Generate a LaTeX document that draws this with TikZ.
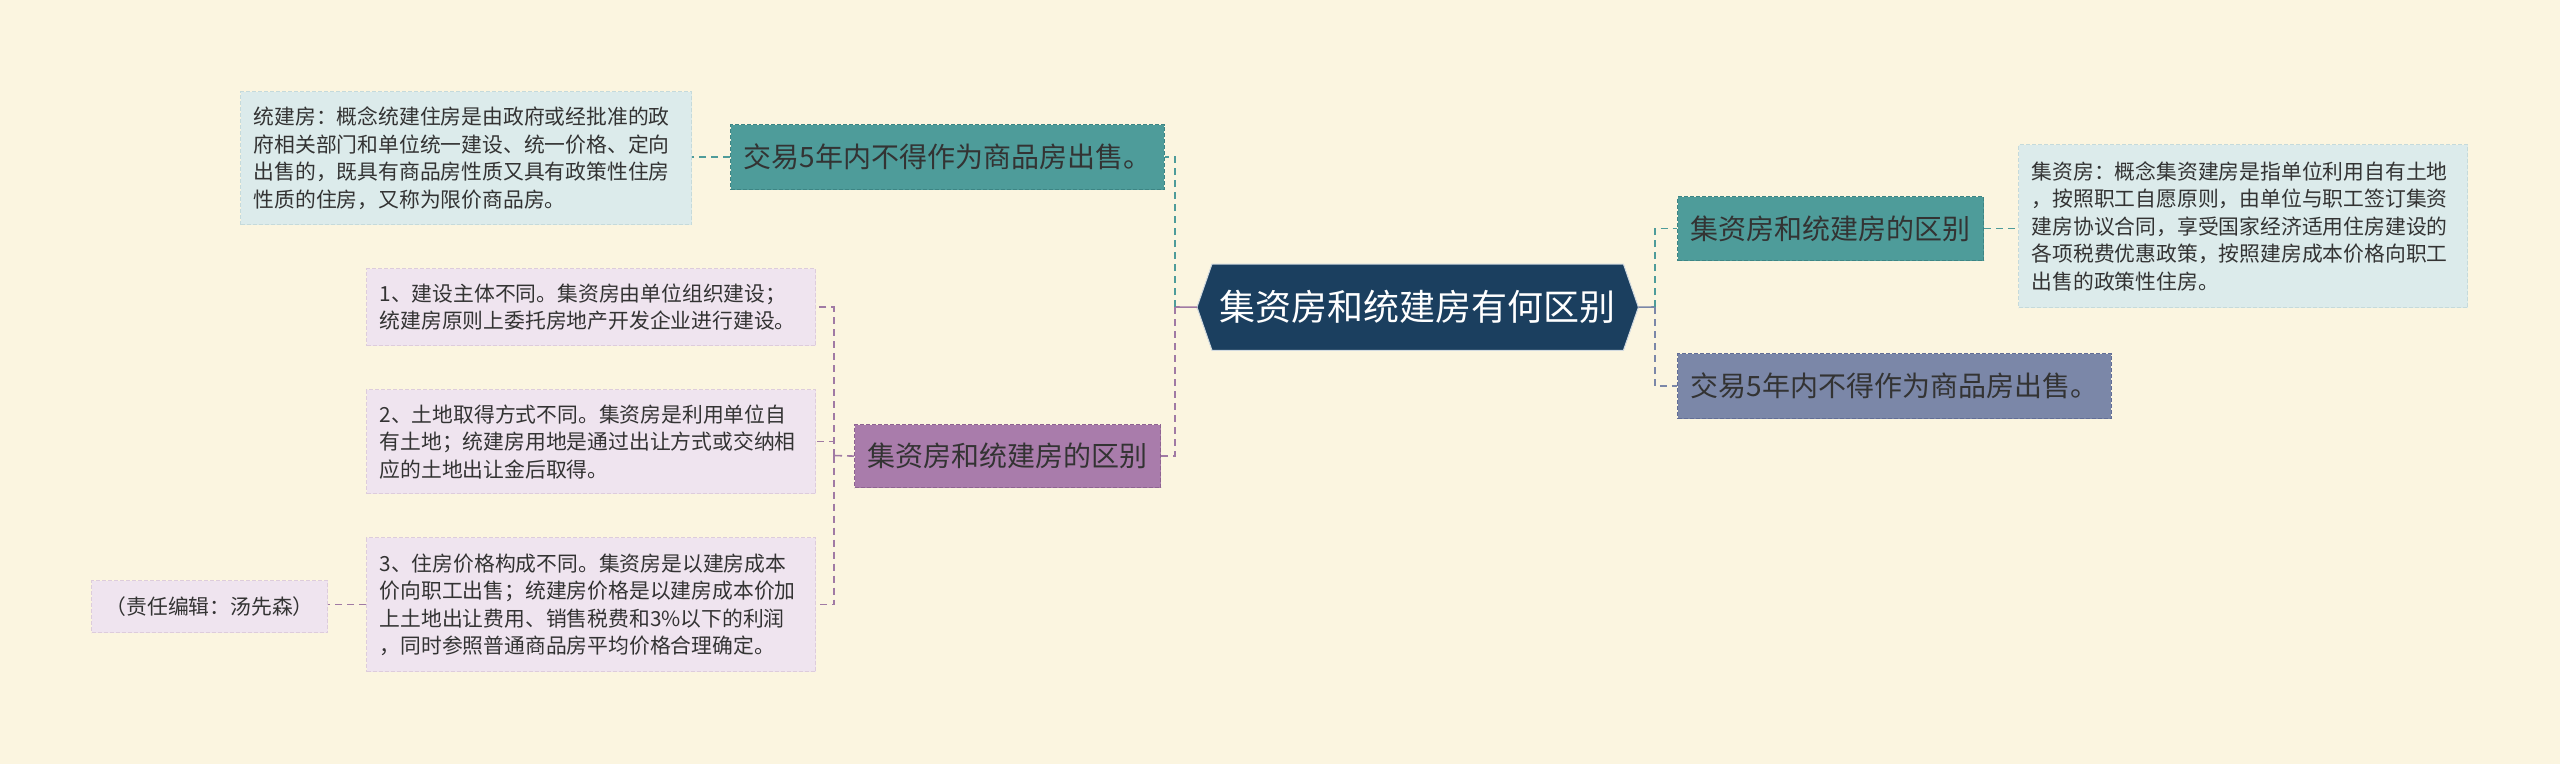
\documentclass[tikz,border=0pt]{standalone}
\usepackage{fontspec}
\setmainfont{Noto Sans CJK SC}
\definecolor{bgc}{HTML}{FBF5E0}
\definecolor{navy}{HTML}{1B3F5F}
\definecolor{tealc}{HTML}{4E9C9A}
\definecolor{tealb}{HTML}{3D8584}
\definecolor{purc}{HTML}{A97CAB}
\definecolor{purb}{HTML}{8E6391}
\definecolor{purl}{HTML}{A07AA4}
\definecolor{slatec}{HTML}{7B87A8}
\definecolor{slateb}{HTML}{626E96}
\definecolor{lblue}{HTML}{DCEBEB}
\definecolor{lblueb}{HTML}{C5DADB}
\definecolor{lav}{HTML}{EFE4EF}
\definecolor{lavb}{HTML}{DDCCDC}
\definecolor{txt}{HTML}{333333}
\begin{document}
\begin{tikzpicture}[x=1pt,y=-1pt,
  box/.style={draw, dash pattern=on 4pt off 2pt, line width=1.2pt, anchor=north west, inner xsep=13pt, inner ysep=0pt, text=txt},
  topic/.style={box, font=\fontsize{28}{34}\selectfont, align=center},
  note/.style={box, font=\fontsize{20.8}{27.5}\selectfont, align=left},
  conn/.style={line width=1.6pt, dash pattern=on 7pt off 5pt}
]
\fill[bgc] (0,0) rectangle (2560,764);
\useasboundingbox (0,0) rectangle (2560,764);

% central
\node[anchor=north west, minimum width=441pt, minimum height=86pt, inner sep=0pt,
  text=white, font=\fontsize{36}{42}\selectfont] (c) at (1197,264) {集资房和统建房有何区别};
\fill[navy, draw=white!80!navy, line width=1pt] (c.west) -- ([xshift=15pt]c.north west) -- ([xshift=-15pt]c.north east) -- (c.east) -- ([xshift=-15pt]c.south east) -- ([xshift=15pt]c.south west) -- cycle;
\node[text=white, font=\fontsize{36}{42}\selectfont] at (c.center) {集资房和统建房有何区别};

% left upper
\node[topic, fill=tealc, draw=tealb, minimum width=428pt, minimum height=65pt] (tA) at (730,124) {交易5年内不得作为商品房出售。};
\node[note, fill=lblue, draw=lblueb, text width=425pt, minimum height=133pt] (dA) at (240,91) {统建房：概念统建住房是由政府或经批准的政\\府相关部门和单位统一建设、统一价格、定向\\出售的，既具有商品房性质又具有政策性住房\\性质的住房，又称为限价商品房。};

% left lower
\node[topic, fill=purc, draw=purb, minimum width=304pt, minimum height=63pt] (pB) at (854,424) {集资房和统建房的区别};
\node[note, fill=lav, draw=lavb, text width=423pt, minimum height=77pt] (i1) at (366,268) {1、建设主体不同。集资房由单位组织建设；\\统建房原则上委托房地产开发企业进行建设。};
\node[note, fill=lav, draw=lavb, text width=423pt, minimum height=104pt] (i2) at (366,389) {2、土地取得方式不同。集资房是利用单位自\\有土地；统建房用地是通过出让方式或交纳相\\应的土地出让金后取得。};
\node[note, fill=lav, draw=lavb, text width=423pt, minimum height=134pt] (i3) at (366,537) {3、住房价格构成不同。集资房是以建房成本\\价向职工出售；统建房价格是以建房成本价加\\上土地出让费用、销售税费和3\%以下的利润\\，同时参照普通商品房平均价格合理确定。};
\node[note, fill=lav, draw=lavb, minimum width=236pt, minimum height=52pt, align=center] (ed) at (91,580) {（责任编辑：汤先森）};

% right
\node[topic, fill=tealc, draw=tealb, minimum width=302pt, minimum height=64pt] (tR) at (1677,196) {集资房和统建房的区别};
\node[note, fill=lblue, draw=lblueb, text width=423pt, minimum height=163pt] (dR) at (2018,144) {集资房：概念集资建房是指单位利用自有土地\\，按照职工自愿原则，由单位与职工签订集资\\建房协议合同，享受国家经济适用住房建设的\\各项税费优惠政策，按照建房成本价格向职工\\出售的政策性住房。};
\node[topic, fill=slatec, draw=slateb, minimum width=428pt, minimum height=65pt] (sR) at (1677,353) {交易5年内不得作为商品房出售。};

% connectors
\coordinate (jl) at (1175,307);
\coordinate (jr) at (1655,307);
\coordinate (jp) at (834,455.5);
\draw[purl, line width=1.6pt] (c.west) -- (jl);
\draw[slatec, line width=1.6pt] (c.east) -- (jr);
\draw[conn, tealc] (jl) |- (tA.east);
\draw[conn, purl] (jl) |- (pB.east);
\draw[conn, tealc] (jr) |- (tR.west);
\draw[conn, slatec] (jr) |- (sR.west);
\draw[conn, tealc] (tA.west) -- (dA.east |- tA.west);
\draw[conn, tealc] (tR.east) -- (dR.west |- tR.east);
\draw[conn, purl] (pB.west) -- (jp);
\draw[conn, purl] (jp) |- (i1.east);
\draw[conn, purl] (jp) |- (i2.east);
\draw[conn, purl] (jp) |- (i3.east);
\draw[conn, purl] (i3.west) -- (ed.east |- i3.west);
\end{tikzpicture}
\end{document}
